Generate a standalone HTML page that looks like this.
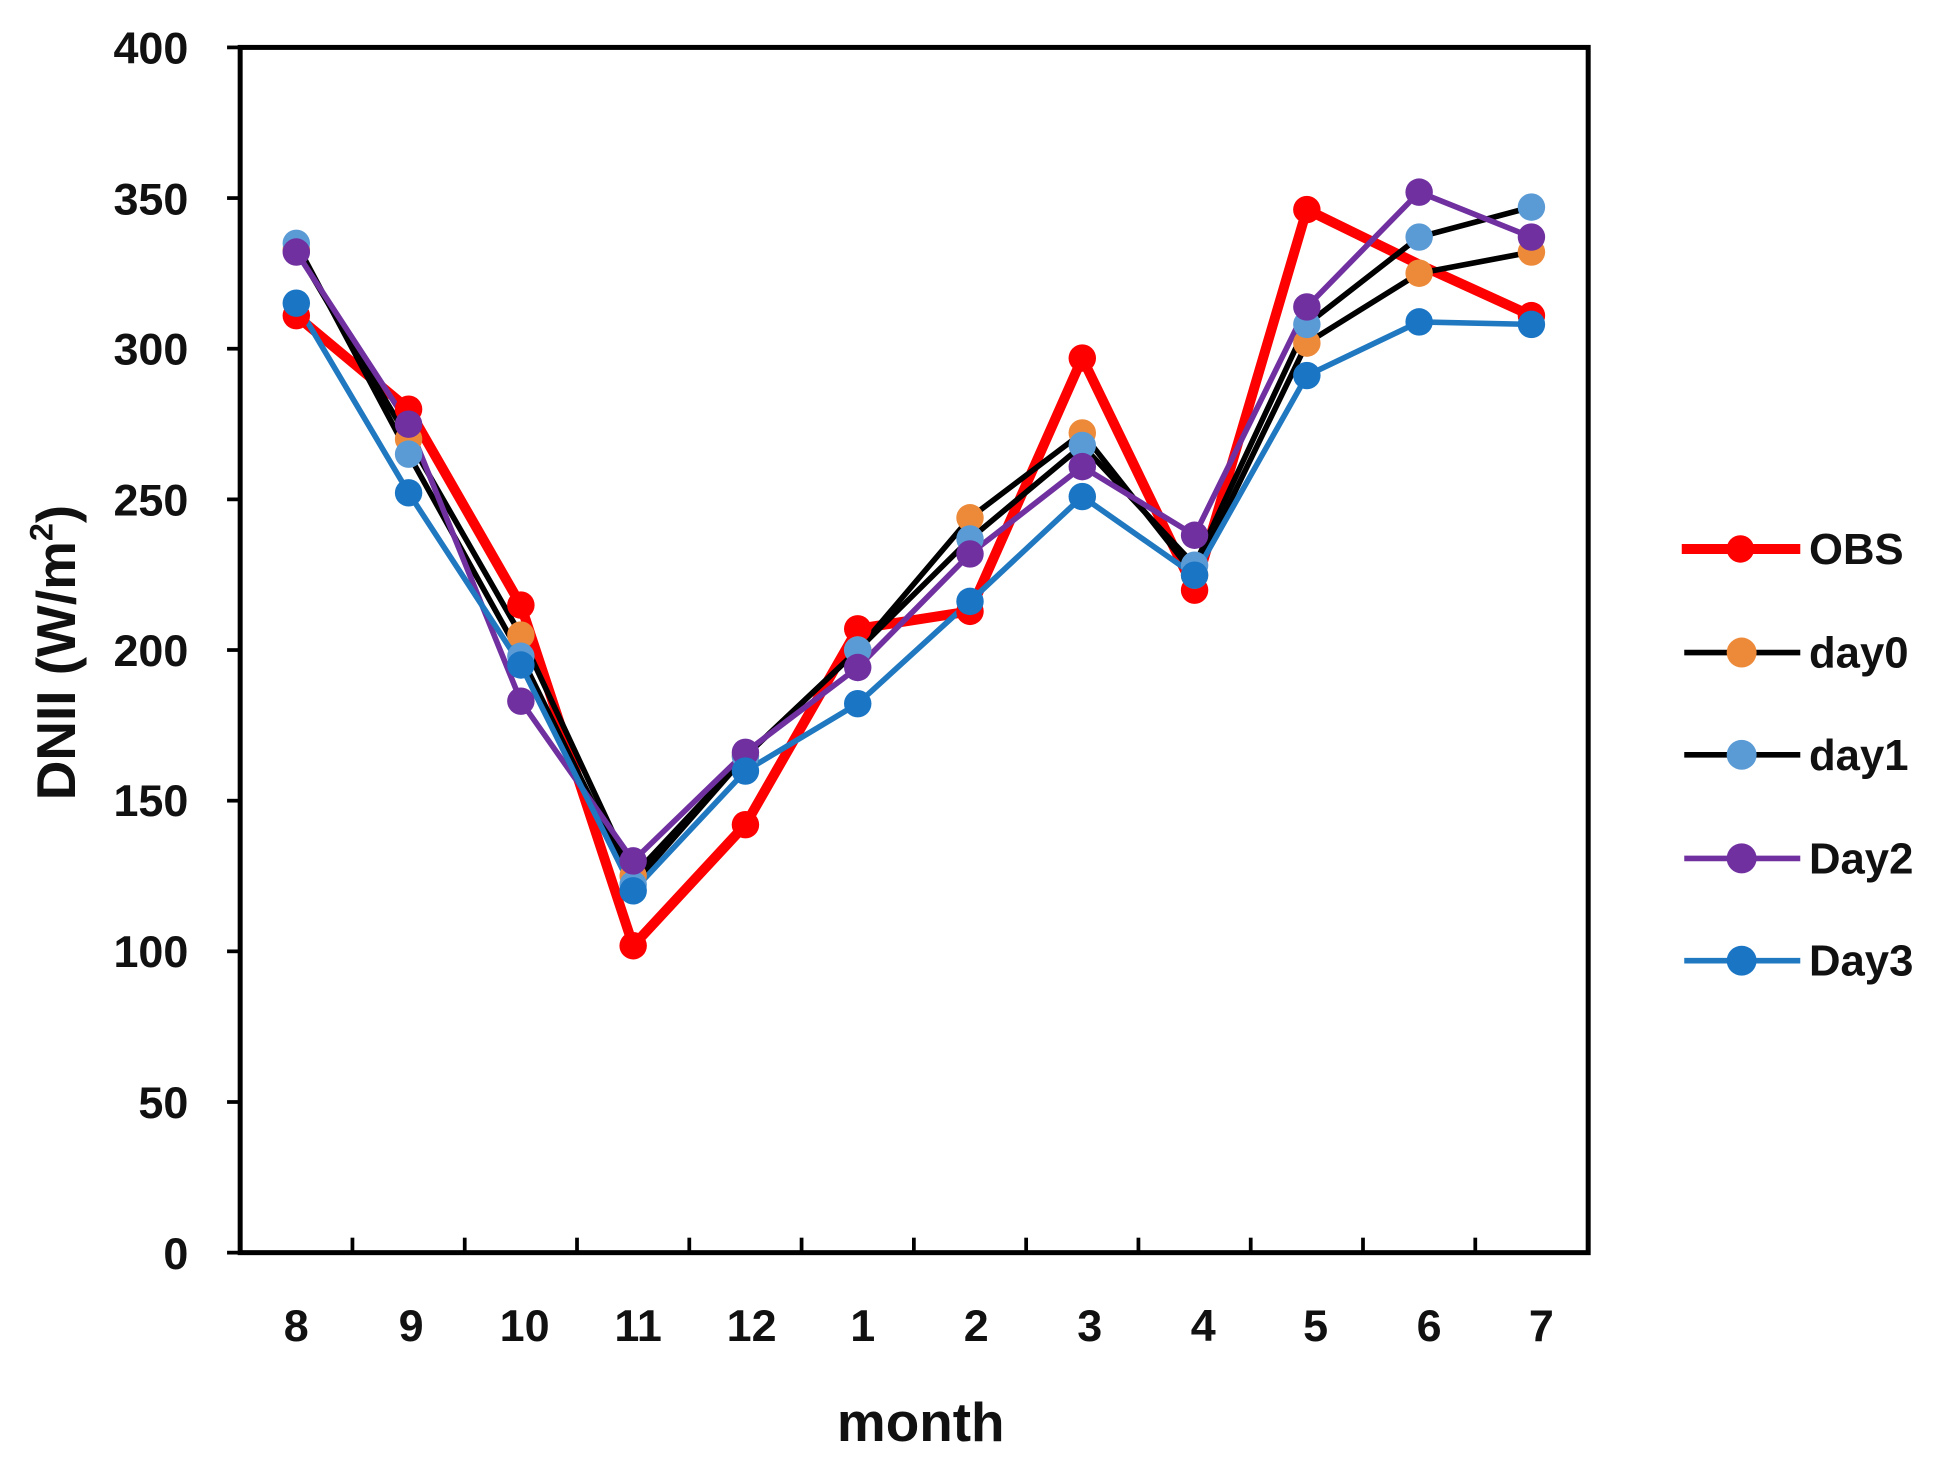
<!DOCTYPE html>
<html><head><style>html,body{margin:0;padding:0;background:#fff}svg{display:block}</style></head>
<body>
<svg width="1945" height="1465" viewBox="0 0 1559 1174.2" preserveAspectRatio="none" xmlns="http://www.w3.org/2000/svg" font-family="Liberation Sans, sans-serif" font-weight="bold">
<rect x="192.5" y="38" width="1080.5" height="966" fill="none" stroke="#000" stroke-width="4"/>
<g stroke="#000" stroke-width="3">
<line x1="182" y1="38" x2="192" y2="38"/><line x1="182" y1="158.75" x2="192" y2="158.75"/><line x1="182" y1="279.5" x2="192" y2="279.5"/><line x1="182" y1="400.25" x2="192" y2="400.25"/><line x1="182" y1="521" x2="192" y2="521"/><line x1="182" y1="641.75" x2="192" y2="641.75"/><line x1="182" y1="762.5" x2="192" y2="762.5"/><line x1="182" y1="883.25" x2="192" y2="883.25"/><line x1="182" y1="1004" x2="192" y2="1004"/>
<line x1="282.5" y1="1004" x2="282.5" y2="992"/><line x1="372.5" y1="1004" x2="372.5" y2="992"/><line x1="462.5" y1="1004" x2="462.5" y2="992"/><line x1="552.5" y1="1004" x2="552.5" y2="992"/><line x1="642.5" y1="1004" x2="642.5" y2="992"/><line x1="732.5" y1="1004" x2="732.5" y2="992"/><line x1="822.5" y1="1004" x2="822.5" y2="992"/><line x1="912.5" y1="1004" x2="912.5" y2="992"/><line x1="1002.5" y1="1004" x2="1002.5" y2="992"/><line x1="1092.5" y1="1004" x2="1092.5" y2="992"/><line x1="1182.5" y1="1004" x2="1182.5" y2="992"/>
</g>
<g font-size="36" text-anchor="end" fill="#111">
<text x="151" y="51">400</text><text x="151" y="172">350</text><text x="151" y="292">300</text><text x="151" y="413">250</text><text x="151" y="534">200</text><text x="151" y="654">150</text><text x="151" y="775">100</text><text x="151" y="896">50</text><text x="151" y="1017">0</text>
</g>
<g font-size="36" text-anchor="middle" fill="#111">
<text x="237.5" y="1075">8</text><text x="329.5" y="1075">9</text><text x="420.5" y="1075">10</text><text x="511.5" y="1075">11</text><text x="602.5" y="1075">12</text><text x="691.5" y="1075">1</text><text x="782.5" y="1075">2</text><text x="873.5" y="1075">3</text><text x="964.5" y="1075">4</text><text x="1054.5" y="1075">5</text><text x="1145.5" y="1075">6</text><text x="1235.5" y="1075">7</text>
</g>
<text x="738" y="1155" font-size="44" text-anchor="middle" fill="#111">month</text>
<text transform="translate(60,523) rotate(-90)" font-size="44" text-anchor="middle" fill="#111">DNII (W/m<tspan font-size="26" dy="-18">2</tspan><tspan dy="18">)</tspan></text>
<g fill="none" stroke-linejoin="round">
<polyline stroke="#ff0000" stroke-width="8" points="237.5,253 327.5,328 417.5,485 507.5,758 597.5,661 687.5,504 777.5,490 867.5,287 957.5,473 1047.5,168 1137.5,212 1227.5,253"/>
<polyline stroke="#000" stroke-width="4.5" points="237.5,200 327.5,352 417.5,509 507.5,702 597.5,606 687.5,521 777.5,415 867.5,347 957.5,461 1047.5,275 1137.5,219 1227.5,202"/>
<polyline stroke="#000" stroke-width="4.5" points="237.5,195 327.5,364 417.5,526 507.5,709 597.5,606 687.5,521 777.5,432 867.5,357 957.5,453 1047.5,260 1137.5,190 1227.5,166"/>
<polyline stroke="#7030a0" stroke-width="4.5" points="237.5,202 327.5,340 417.5,562 507.5,690 597.5,603 687.5,535 777.5,444 867.5,374 957.5,429 1047.5,246 1137.5,154 1227.5,190"/>
<polyline stroke="#1f78c0" stroke-width="4.5" points="237.5,243 327.5,395 417.5,533 507.5,714 597.5,618 687.5,564 777.5,482 867.5,398 957.5,461 1047.5,301 1137.5,258 1227.5,260"/>
</g>
<g fill="#ff0000"><circle cx="237.5" cy="253" r="11"/><circle cx="327.5" cy="328" r="11"/><circle cx="417.5" cy="485" r="11"/><circle cx="507.5" cy="758" r="11"/><circle cx="597.5" cy="661" r="11"/><circle cx="687.5" cy="504" r="11"/><circle cx="777.5" cy="490" r="11"/><circle cx="867.5" cy="287" r="11"/><circle cx="957.5" cy="473" r="11"/><circle cx="1047.5" cy="168" r="11"/><circle cx="1227.5" cy="253" r="11"/></g>
<g fill="#ed8a3a"><circle cx="237.5" cy="200" r="11"/><circle cx="327.5" cy="352" r="11"/><circle cx="417.5" cy="509" r="11"/><circle cx="507.5" cy="702" r="11"/><circle cx="597.5" cy="606" r="11"/><circle cx="687.5" cy="521" r="11"/><circle cx="777.5" cy="415" r="11"/><circle cx="867.5" cy="347" r="11"/><circle cx="957.5" cy="461" r="11"/><circle cx="1047.5" cy="275" r="11"/><circle cx="1137.5" cy="219" r="11"/><circle cx="1227.5" cy="202" r="11"/></g>
<g fill="#5b9bd5"><circle cx="237.5" cy="195" r="11"/><circle cx="327.5" cy="364" r="11"/><circle cx="417.5" cy="526" r="11"/><circle cx="507.5" cy="709" r="11"/><circle cx="597.5" cy="606" r="11"/><circle cx="687.5" cy="521" r="11"/><circle cx="777.5" cy="432" r="11"/><circle cx="867.5" cy="357" r="11"/><circle cx="957.5" cy="453" r="11"/><circle cx="1047.5" cy="260" r="11"/><circle cx="1137.5" cy="190" r="11"/><circle cx="1227.5" cy="166" r="11"/></g>
<g fill="#7030a0"><circle cx="237.5" cy="202" r="11"/><circle cx="327.5" cy="340" r="11"/><circle cx="417.5" cy="562" r="11"/><circle cx="507.5" cy="690" r="11"/><circle cx="597.5" cy="603" r="11"/><circle cx="687.5" cy="535" r="11"/><circle cx="777.5" cy="444" r="11"/><circle cx="867.5" cy="374" r="11"/><circle cx="957.5" cy="429" r="11"/><circle cx="1047.5" cy="246" r="11"/><circle cx="1137.5" cy="154" r="11"/><circle cx="1227.5" cy="190" r="11"/></g>
<g fill="#1a75c4"><circle cx="237.5" cy="243" r="11"/><circle cx="327.5" cy="395" r="11"/><circle cx="417.5" cy="533" r="11"/><circle cx="507.5" cy="714" r="11"/><circle cx="597.5" cy="618" r="11"/><circle cx="687.5" cy="564" r="11"/><circle cx="777.5" cy="482" r="11"/><circle cx="867.5" cy="398" r="11"/><circle cx="957.5" cy="461" r="11"/><circle cx="1047.5" cy="301" r="11"/><circle cx="1137.5" cy="258" r="11"/><circle cx="1227.5" cy="260" r="11"/></g>
<g font-size="35" fill="#111">
<line x1="1348" y1="440" x2="1443" y2="440" stroke="#ff0000" stroke-width="8"/><circle cx="1395" cy="440" r="11" fill="#ff0000"/><text x="1450" y="452">OBS</text>
<line x1="1350" y1="523" x2="1443" y2="523" stroke="#000" stroke-width="4.5"/><circle cx="1396" cy="523" r="12" fill="#ed8a3a"/><text x="1450" y="535">day0</text>
<line x1="1350" y1="605" x2="1443" y2="605" stroke="#000" stroke-width="4.5"/><circle cx="1396" cy="605" r="12" fill="#5b9bd5"/><text x="1450" y="617">day1</text>
<line x1="1350" y1="688" x2="1443" y2="688" stroke="#7030a0" stroke-width="4.5"/><circle cx="1396" cy="688" r="12" fill="#7030a0"/><text x="1450" y="700">Day2</text>
<line x1="1350" y1="770" x2="1443" y2="770" stroke="#1f78c0" stroke-width="4.5"/><circle cx="1396" cy="770" r="12" fill="#1a75c4"/><text x="1450" y="782">Day3</text>
</g>
</svg>
</body></html>
